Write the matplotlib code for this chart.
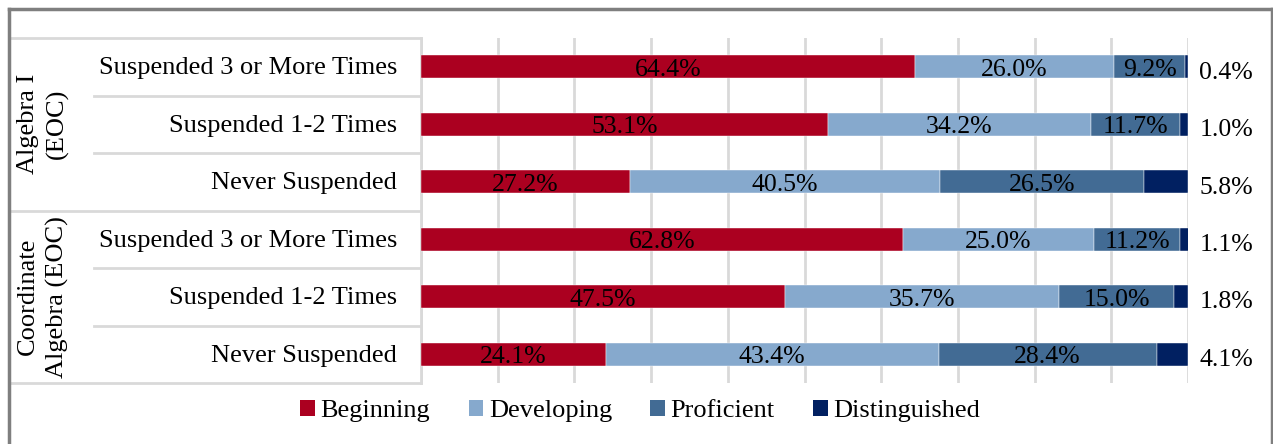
import numpy as np
import matplotlib
matplotlib.use("Agg")
import matplotlib.pyplot as plt
from matplotlib.lines import Line2D
from matplotlib.patches import Patch
from matplotlib.transforms import blended_transform_factory

# data
groups = ["Algebra I\n(EOC)", "Coordinate\nAlgebra (EOC)"]
rows = ["Suspended 3 or More Times", "Suspended 1-2 Times", "Never Suspended",
        "Suspended 3 or More Times", "Suspended 1-2 Times", "Never Suspended"]
levels = ["Beginning", "Developing", "Proficient", "Distinguished"]
beginning = [64.4, 53.1, 27.2, 62.8, 47.5, 24.1]
developing = [26.0, 34.2, 40.5, 25.0, 35.7, 43.4]
proficient = [9.2, 11.7, 26.5, 11.2, 15.0, 28.4]
distinguished = [0.4, 1.0, 5.8, 1.1, 1.8, 4.1]

colors = ["#AB0020", "#86A9CD", "#426B94", "#012061"]
GRID = "#D9D9D9"

plt.rcParams["font.family"] = ["Liberation Serif", "DejaVu Serif"]

W, H = 1273, 444
fig = plt.figure(figsize=(W / 100, H / 100), dpi=100)

# plot area in pixels
x0, x1, y0, y1 = 421, 1188, 38, 383
ax = fig.add_axes([x0 / W, 1 - y1 / H, (x1 - x0) / W, (y1 - y0) / H])

series = [beginning, developing, proficient, distinguished]
y = np.arange(len(rows))
left = np.zeros(len(rows))
for vals, col, name in zip(series, colors, levels):
    vals = np.array(vals)
    ax.barh(y, vals, left=left, height=0.4, color=col, label=name,
            edgecolor="white", linewidth=0.3, zorder=3)
    if name != "Distinguished":
        for yi, l, v in zip(y, left, vals):
            ax.text(l + v / 2, yi + 0.05, f"{v:.1f}%", ha="center", va="center",
                    fontsize=18.5, color="black", zorder=4)
    else:
        for yi, v in zip(y, vals):
            ax.text(105, yi + 0.1, f"{v:.1f}%", ha="center", va="center",
                    fontsize=18.5, color="black", clip_on=False)
    left += vals

ax.set_xlim(0, 100)
ax.set_ylim(len(rows) - 0.5, -0.5)
ax.set_xticks(np.arange(0, 101, 10))
ax.set_yticks([])
ax.tick_params(axis="x", length=0, labelbottom=False)
ax.grid(axis="x", color=GRID, linewidth=2, zorder=0)
for s in ["top", "right", "bottom"]:
    ax.spines[s].set_visible(False)
ax.spines["left"].set_color(GRID)
ax.spines["left"].set_linewidth(2)

# category table on the left
tr = blended_transform_factory(ax.transAxes, ax.transData)
full_x = (10 - x0) / (x1 - x0)
sub_x = (94 - x0) / (x1 - x0)
for b in np.arange(-0.5, len(rows), 1.0):
    start = full_x if b in (-0.5, 2.5, len(rows) - 0.5) else sub_x
    ax.add_line(Line2D([start, 0], [b, b], transform=tr, color=GRID,
                       linewidth=2, clip_on=False))

lab_x = (397 - x0) / (x1 - x0)
for yi, r in zip(y, rows):
    ax.text(lab_x, yi + 0.03, r, transform=tr, ha="right", va="center", fontsize=19)

grp_x = (43 - x0) / (x1 - x0)
for gi, g in enumerate(groups):
    ax.text(grp_x, gi * 3 + 1, g, transform=tr, rotation=90, ha="center",
            va="center", multialignment="center", fontsize=19, linespacing=1.35)

# legend
handles = [Patch(facecolor=c, edgecolor="none", label=n) for c, n in zip(colors, levels)]
fig.legend(handles=handles, loc="center", bbox_to_anchor=(0.503, 1 - 411 / H),
           ncol=4, frameon=False, fontsize=19, handlelength=0.55, handleheight=0.55,
           handletextpad=0.22, columnspacing=1.45, borderaxespad=0)

# outer frame (bottom edge falls outside the picture)
fc = "#7F7F7F"
fig.add_artist(Line2D([9 / W, 9 / W], [0, 1 - 9 / H], color=fc, linewidth=2.5))
fig.add_artist(Line2D([9 / W, 1271.5 / W], [1 - 9 / H, 1 - 9 / H], color=fc, linewidth=2.5))
fig.add_artist(Line2D([1271.5 / W, 1271.5 / W], [0, 1 - 9 / H], color=fc, linewidth=2.5))

fig.savefig("out.png", dpi=100)
